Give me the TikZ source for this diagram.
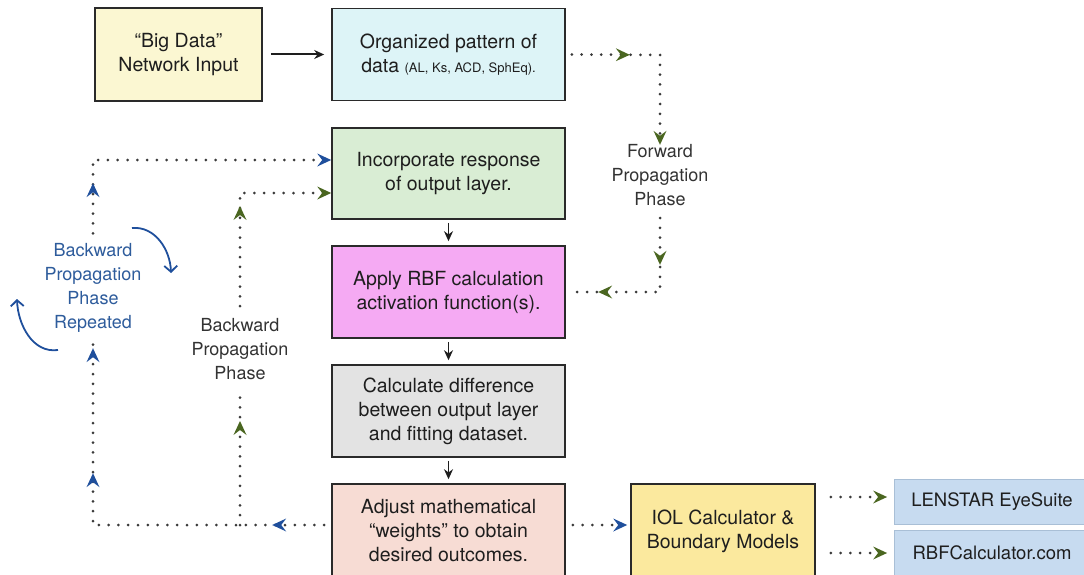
\documentclass[tikz,border=0pt]{standalone}
\usepackage{fontspec}
\setmainfont{TeX Gyre Heros}
\usetikzlibrary{arrows.meta,decorations.markings}

\definecolor{ink}{HTML}{1E1E1E}
\definecolor{boxline}{HTML}{2A2A2A}
\definecolor{dotgray}{HTML}{3A3A3A}
\definecolor{fwdgreen}{HTML}{4A6620}
\definecolor{bwdblue}{HTML}{1F4F9C}
\definecolor{bluetext}{HTML}{2E5C9C}
\definecolor{graytext}{HTML}{333333}
\definecolor{cream}{HTML}{FBF7D2}
\definecolor{aqua}{HTML}{DDF4F7}
\definecolor{mint}{HTML}{D9EDD4}
\definecolor{orchid}{HTML}{F5AAF3}
\definecolor{silver}{HTML}{E3E3E3}
\definecolor{blush}{HTML}{F7DCD4}
\definecolor{butter}{HTML}{FBE99E}
\definecolor{sky}{HTML}{C7DBF0}
\definecolor{skyline}{HTML}{A9BFD6}

% coloured arrowhead placed on a dotted connector (its point lies at the mark)
\newcommand{\midtip}[1]{\fill[#1] (1pt,0pt) -- (-13pt,6.5pt) -- (-8pt,0pt) -- (-13pt,-6.5pt) -- cycle;}

\tikzset{
  box/.style={draw=boxline, line width=1.6pt, text=ink, align=center,
    font=\fontsize{19.5}{24}\selectfont, inner sep=0pt},
  mainbox/.style={box, minimum width=233pt, minimum height=92pt},
  linkbox/.style={draw=skyline, line width=0.8pt, fill=sky, text=ink,
    font=\fontsize{18.5}{22}\selectfont, minimum width=195pt, minimum height=45pt, inner sep=0pt},
  dotline/.style={draw=dotgray, line width=3pt, line cap=round, dash pattern=on 0pt off 9.8pt},
  marks/.style={postaction={decorate,decoration={markings,#1}}},
  flow/.style={draw=ink, line width=2pt, -{Stealth[length=10pt,width=9pt]}},
  phase/.style={fill=white, align=center, font=\fontsize{18}{24}\selectfont, inner xsep=6pt},
  turn/.style={draw=bwdblue, line width=1.8pt, -{Straight Barb[length=6pt,width=13pt]}},
}

\begin{document}
\begin{tikzpicture}[x=1pt,y=-1pt]
\useasboundingbox (0,0) rectangle (1084,575);

% process boxes
\node[box, fill=cream, minimum width=167pt, minimum height=93pt] (input) at (178.5,54.5)
  {``Big Data''\\Network Input};
\node[mainbox, fill=aqua] (pattern) at (448.5,54.5)
  {Organized pattern of\\data {\fontsize{13}{24}\selectfont(AL, Ks, ACD, SphEq).}};
\node[mainbox, fill=mint, minimum height=91pt] (response) at (448.5,173.5)
  {Incorporate response\\of output layer.};
\node[mainbox, fill=orchid] (rbf) at (448.5,292)
  {Apply RBF calculation\\activation function(s).};
\node[mainbox, fill=silver] (diff) at (448.5,411)
  {Calculate difference\\between output layer\\and fitting dataset.};
\node[mainbox, fill=blush, minimum height=94pt] (weights) at (448.5,531)
  {Adjust mathematical\\``weights'' to obtain\\desired outcomes.};
\node[box, fill=butter, minimum width=184pt, minimum height=94pt] (iol) at (723,531)
  {IOL Calculator \&\\Boundary Models};
\node[linkbox] (lenstar) at (992,501.5) {LENSTAR EyeSuite};
\node[linkbox] (rbfcalc) at (992,553) {RBFCalculator.com};

% solid flow
\draw[flow, shorten <=8pt, shorten >=7pt] (input) -- (pattern);
\draw[flow, line width=1.5pt, shorten <=3pt, shorten >=4pt] (response) -- (rbf);
\draw[flow, line width=1.5pt, shorten <=3pt, shorten >=4pt] (rbf) -- (diff);
\draw[flow, line width=1.5pt, shorten <=3pt, shorten >=4pt] (diff) -- (weights);

% labels that interrupt the dotted connectors
\node[phase, text=graytext, inner ysep=4pt] (fwdlabel) at (660,175)
  {Forward\\Propagation\\Phase};
\node[phase, text=graytext, inner ysep=12pt] (bwdlabel) at (240,349)
  {Backward\\Propagation\\Phase};
\node[phase, text=bluetext, inner ysep=10pt] (replabel) at (93,288)
  {Backward\\Propagation\\Phase\\Repeated};

% forward propagation loop
\coordinate (fwdtop) at (660,55);
\coordinate (fwdbot) at (660,292);
\path[dotline] ([xshift=6pt]pattern.east) -- (fwdtop) -- (660,136);
\path[dotline] (660,218) -- (fwdbot) -- ([xshift=6pt]rbf.east);
\path[marks={mark=at position 57pt with {\midtip{fwdgreen}},
         mark=at position 177pt with {\midtip{fwdgreen}},
         mark=at position 297pt with {\midtip{fwdgreen}},
         mark=at position 386pt with {\midtip{fwdgreen}}}]
  ([xshift=6pt]pattern.east) -- (fwdtop) -- (fwdbot) -- ([xshift=6pt]rbf.east);

% repeated backward propagation loop
\coordinate (bwdbl) at (93,525);
\coordinate (bwdtl) at (93,160);
\path[dotline] ([xshift=-7pt]weights.west |- bwdbl) -- (bwdbl) -- (replabel.south);
\path[dotline] (replabel.north) -- (bwdtl) -- ([xshift=-6pt]response.west |- bwdtl);
\path[marks={mark=at position 51pt with {\midtip{bwdblue}},
         mark=at position 282pt with {\midtip{bwdblue}},
         mark=at position 407pt with {\midtip{bwdblue}},
         mark=at position 572pt with {\midtip{bwdblue}},
         mark=at position 1 with {\midtip{bwdblue}}}]
  ([xshift=-7pt]weights.west |- bwdbl) -- (bwdbl) -- (bwdtl) -- ([xshift=-1pt]response.west |- bwdtl);

% single backward propagation loop
\coordinate (gbot) at (240,525);
\coordinate (gtop) at (240,193);
\path[dotline] (gbot) -- (bwdlabel.south);
\path[dotline] (bwdlabel.north) -- (gtop) -- ([xshift=-6pt]response.west |- gtop);
\path[marks={mark=at position 103pt with {\midtip{fwdgreen}},
         mark=at position 318pt with {\midtip{fwdgreen}},
         mark=at position 1 with {\midtip{fwdgreen}}}]
  (gbot) -- (gtop) -- ([xshift=-1pt]response.west |- gtop);

% repetition arrows
\coordinate (turnAs) at (132,228);
\coordinate (turnAe) at (171,273);
\coordinate (turnBs) at (58,350);
\coordinate (turnBe) at (17,299);
\draw[turn] (turnAs) to[out=5,in=92] (turnAe);
\draw[turn] (turnBs) to[out=188,in=-88] (turnBe);

% output links
\draw[dotline, marks={mark=at position 1 with {\midtip{bwdblue}}}]
  ([xshift=7pt]weights.east |- bwdbl) -- ([xshift=-4pt]iol.west |- bwdbl);
\draw[dotline, marks={mark=at position 1 with {\midtip{fwdgreen}}}]
  ([xshift=15pt]iol.east |- 0,497) -- ([xshift=-8pt]lenstar.west |- 0,497);
\draw[dotline, marks={mark=at position 1 with {\midtip{fwdgreen}}}]
  ([xshift=15pt]iol.east |- rbfcalc) -- ([xshift=-8pt]rbfcalc.west);
\end{tikzpicture}
\end{document}
